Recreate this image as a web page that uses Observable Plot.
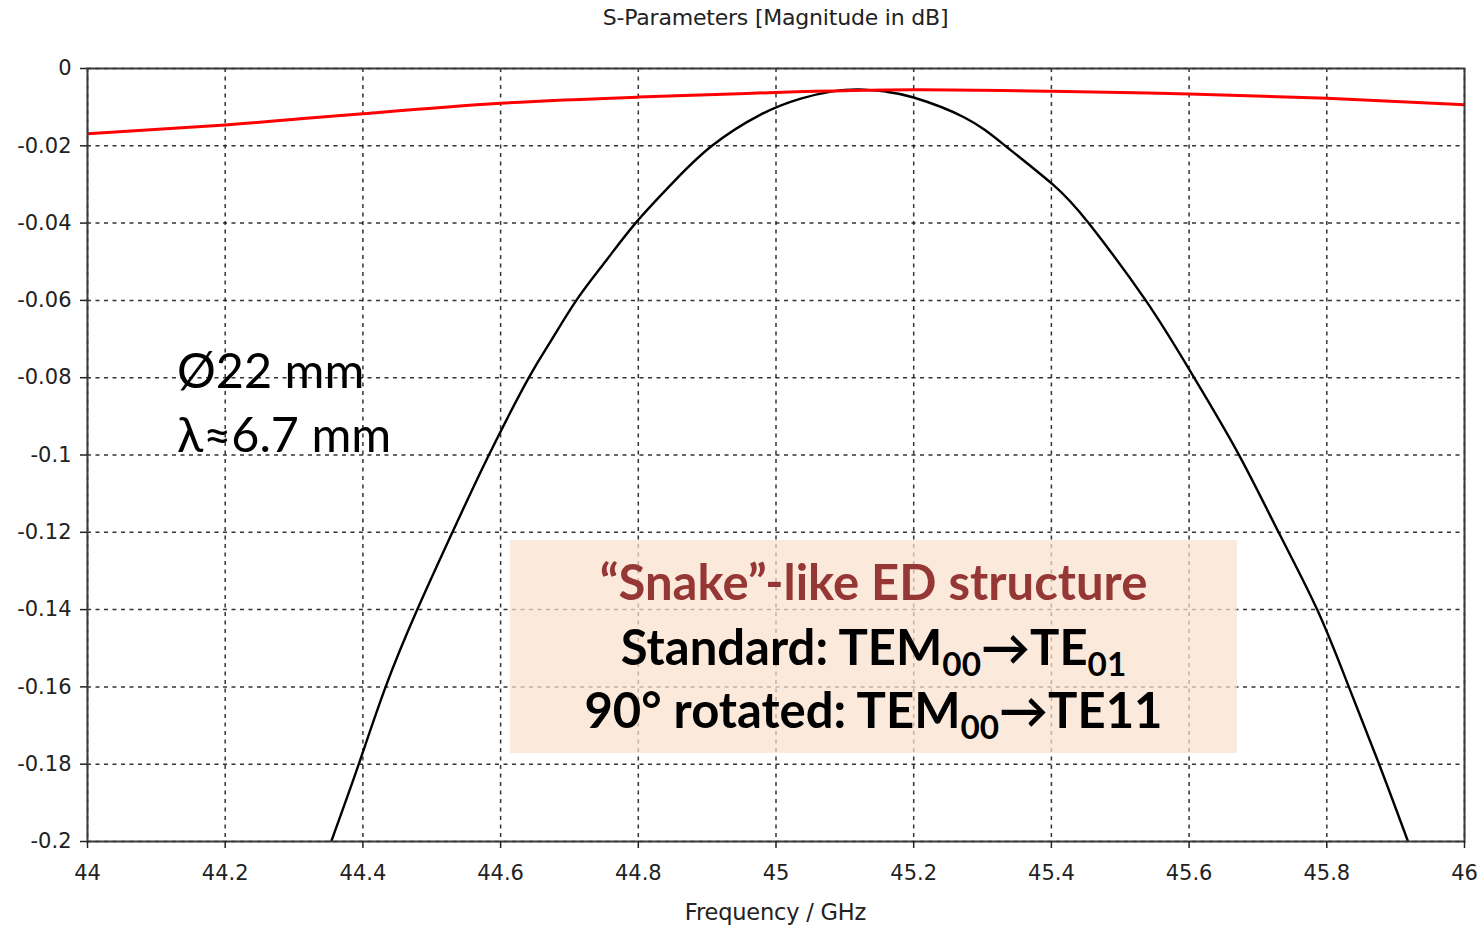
<!DOCTYPE html>
<html>
<head>
<meta charset="utf-8">
<script src="https://cdn.jsdelivr.net/npm/d3@7"></script>
<script src="https://cdn.jsdelivr.net/npm/@observablehq/plot@0.6"></script>
<style>
  html, body { margin: 0; padding: 0; background: #fff; }
  #wrap { position: relative; width: 1479px; height: 926px; overflow: hidden; }
  #title { position: absolute; left: 87px; width: 1377px; top: 5px; text-align: center;
           font: 22px "DejaVu Sans", sans-serif; color: #222; letter-spacing: -0.2px; }
  #xlabel { position: absolute; left: 87px; width: 1377px; top: 899px; text-align: center;
            font: 22.5px "DejaVu Sans", sans-serif; color: #222; letter-spacing: -0.2px; }
  #chart { position: absolute; left: 0; top: 40px; }
  .note { position: absolute; font-family: Lato, "Open Sans", sans-serif; font-size: 48.5px; color: #000; white-space: nowrap; }
  #box { position: absolute; left: 510px; top: 540px; width: 727px; height: 213px;
         background: rgba(250, 224, 205, 0.72); }
  .boxline { position: absolute; left: 510px; width: 727px; text-align: center; font-size: 49px;
             font-family: Lato, "Open Sans", sans-serif; font-weight: bold; white-space: nowrap; color: #000; }
  .boxline sub { font-size: 0.68em; vertical-align: -0.32em; line-height: 0; }
</style>
</head>
<body>
<div id="wrap">
  <div id="title">S-Parameters [Magnitude in dB]</div>
  <div id="chart"></div>
  <div id="box"></div>
  <div class="boxline" style="top:551.6px;color:#953735;">“Snake”-like ED structure</div>
  <div class="boxline" style="top:616.6px;">Standard: TEM<sub>00</sub>→TE<sub>01</sub></div>
  <div class="boxline" style="top:679.6px;">90° rotated: TEM<sub>00</sub>→TE11</div>
  <div class="note" style="left:177px;top:339.5px;">Ø22 mm</div>
  <div class="note" style="left:177px;top:403.5px;">λ≈6.7 mm</div>
  <div id="xlabel">Frequency / GHz</div>
</div>
<script>
// ---- data ----
const xTicks = [44, 44.2, 44.4, 44.6, 44.8, 45, 45.2, 45.4, 45.6, 45.8, 46];
const yTicks = [0, -0.02, -0.04, -0.06, -0.08, -0.1, -0.12, -0.14, -0.16, -0.18, -0.2];
const yTickLabels = ["0", "-0.02", "-0.04", "-0.06", "-0.08", "-0.1", "-0.12", "-0.14", "-0.16", "-0.18", "-0.2"];

// red curve (upper, nearly flat)
const redFreq = [44.0, 44.2, 44.309, 44.4, 44.6, 44.8, 45.0, 45.2, 45.4, 45.6, 45.8, 46.0];
const redDb   = [-0.0169, -0.0146, -0.0130, -0.0117, -0.0090, -0.0074, -0.0062, -0.0055, -0.0059, -0.0066, -0.0077, -0.0094];

// black curve (parabola-like)
const blackFreq = [44.354, 44.394, 44.433, 44.479, 44.530, 44.583, 44.641, 44.672, 44.710, 44.752, 44.796, 44.852, 44.907,
                   44.977, 45.036, 45.080, 45.120, 45.160, 45.200, 45.273, 45.333, 45.402, 45.454, 45.537, 45.604, 45.671,
                   45.730, 45.786, 45.832, 45.876, 45.918];
const blackDb = [-0.200, -0.180, -0.160, -0.140, -0.120, -0.100, -0.080, -0.0708, -0.060, -0.050, -0.040, -0.0292, -0.020,
                 -0.0120, -0.0078, -0.0060, -0.0054, -0.0060, -0.0075, -0.0126, -0.0200, -0.0300, -0.0400, -0.0600, -0.0790, -0.0995,
                 -0.120, -0.140, -0.160, -0.180, -0.200];

const red = redFreq.map((f, i) => ({f, v: redDb[i]}));
const black = blackFreq.map((f, i) => ({f, v: blackDb[i]}));
const yLabelMap = new Map(yTicks.map((t, i) => [t, yTickLabels[i]]));

const chart = Plot.plot({
  width: 1479,
  height: 846,
  marginLeft: 87,
  marginRight: 15,
  marginTop: 28,
  marginBottom: 45,
  style: {fontFamily: "DejaVu Sans, sans-serif", fontSize: "21px", color: "#222", background: "transparent", overflow: "visible"},
  x: {domain: [44, 46]},
  y: {domain: [-0.2, 0]},
  marks: [
    Plot.gridX({ticks: xTicks, stroke: "#111", strokeOpacity: 0.85, strokeWidth: 1.5, strokeDasharray: "4,4.5"}),
    Plot.gridY({ticks: yTicks, stroke: "#111", strokeOpacity: 0.85, strokeWidth: 1.5, strokeDasharray: "4,4.5"}),
    Plot.line(black, {x: "f", y: "v", stroke: "#000", strokeWidth: 2.4, curve: "natural", clip: true}),
    Plot.line(red, {x: "f", y: "v", stroke: "#ff0000", strokeWidth: 3, curve: "natural", clip: true}),
    Plot.frame({stroke: "#3a3a3a", strokeWidth: 2}),
    Plot.axisX({ticks: xTicks, tickFormat: d => String(d), tickSize: 7, tickPadding: 17, label: null, stroke: "#222", strokeWidth: 1.5}),
    Plot.axisY({ticks: yTicks, tickFormat: d => yLabelMap.get(d) ?? String(d), tickSize: 7, tickPadding: 9, label: null, stroke: "#222", strokeWidth: 1.5})
  ]
});
document.getElementById("chart").appendChild(chart);
</script>
</body>
</html>
